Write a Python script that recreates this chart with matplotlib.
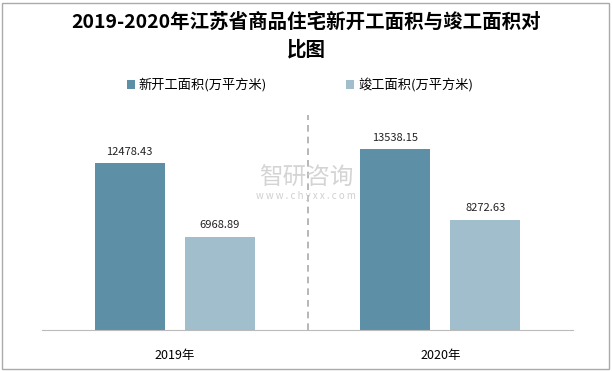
import matplotlib
matplotlib.use("Agg")
import matplotlib.pyplot as plt
from matplotlib.patches import Rectangle
import numpy as np

plt.rcParams['font.family'] = ['Noto Sans CJK SC', 'DejaVu Sans']

categories = ["2019年", "2020年"]
series_names = ["新开工面积(万平方米)", "竣工面积(万平方米)"]
new_start = [12478.43, 13538.15]
completed = [6968.89, 8272.63]
colors = ["#5D90A7", "#A0BECB"]

fig = plt.figure(figsize=(6.12, 3.71), dpi=100)
ax = fig.add_axes([42/612, 1-330/371, 531/612, 215/371])

x = np.arange(len(categories))
w = 0.264
off = 0.17
b1 = ax.bar(x - off, new_start, w, color=colors[0], label=series_names[0])
b2 = ax.bar(x + off, completed, w, color=colors[1], label=series_names[1])
for bars, vals in ((b1, new_start), (b2, completed)):
    for r, v in zip(bars, vals):
        ax.text(r.get_x() + r.get_width()/2, v + 500, f"{v:.2f}", ha="center", va="bottom", fontsize=8, color="#222222")

ax.set_xlim(-0.5, 1.5)
ax.set_ylim(0, 16100)
ax.set_yticks([])
ax.set_xticks(x)
ax.set_xticklabels(categories, fontsize=9)
ax.tick_params(axis="x", length=0, pad=14)
for s in ("top", "left", "right"):
    ax.spines[s].set_visible(False)
ax.spines["bottom"].set_color("#BBBBBB")
ax.axvline(0.5, color="#AAAAAA", linestyle=(0, (4, 3)), linewidth=1.2)

fig.text(0.5, 1-22/371, "2019-2020年江苏省商品住宅新开工面积与竣工面积对", ha="center", va="center", fontsize=14, fontweight="bold")
fig.text(0.5, 1-50/371, "比图", ha="center", va="center", fontsize=14, fontweight="bold")

leg = fig.legend(handles=[b1, b2], labels=series_names, loc="center", bbox_to_anchor=(0.49, 1-85/371),
                 ncol=2, frameon=False, fontsize=9.5, handlelength=0.6, handleheight=0.6,
                 columnspacing=6, handletextpad=0.3)

fig.text(0.5, 1-178/371, "智研咨询", ha="center", va="center", fontsize=17, color="#D0D0D0", alpha=0.9)
fig.text(0.5, 1-196/371, "w w w . c h y x x . c o m", ha="center", va="center", fontsize=7, color="#D0D0D0")

fig.patches.append(Rectangle((2/612, 2/371), 607/612, 366/371, transform=fig.transFigure,
                             fill=False, edgecolor="#AAAAAA", linewidth=1))

fig.savefig("out.png", dpi=100)
